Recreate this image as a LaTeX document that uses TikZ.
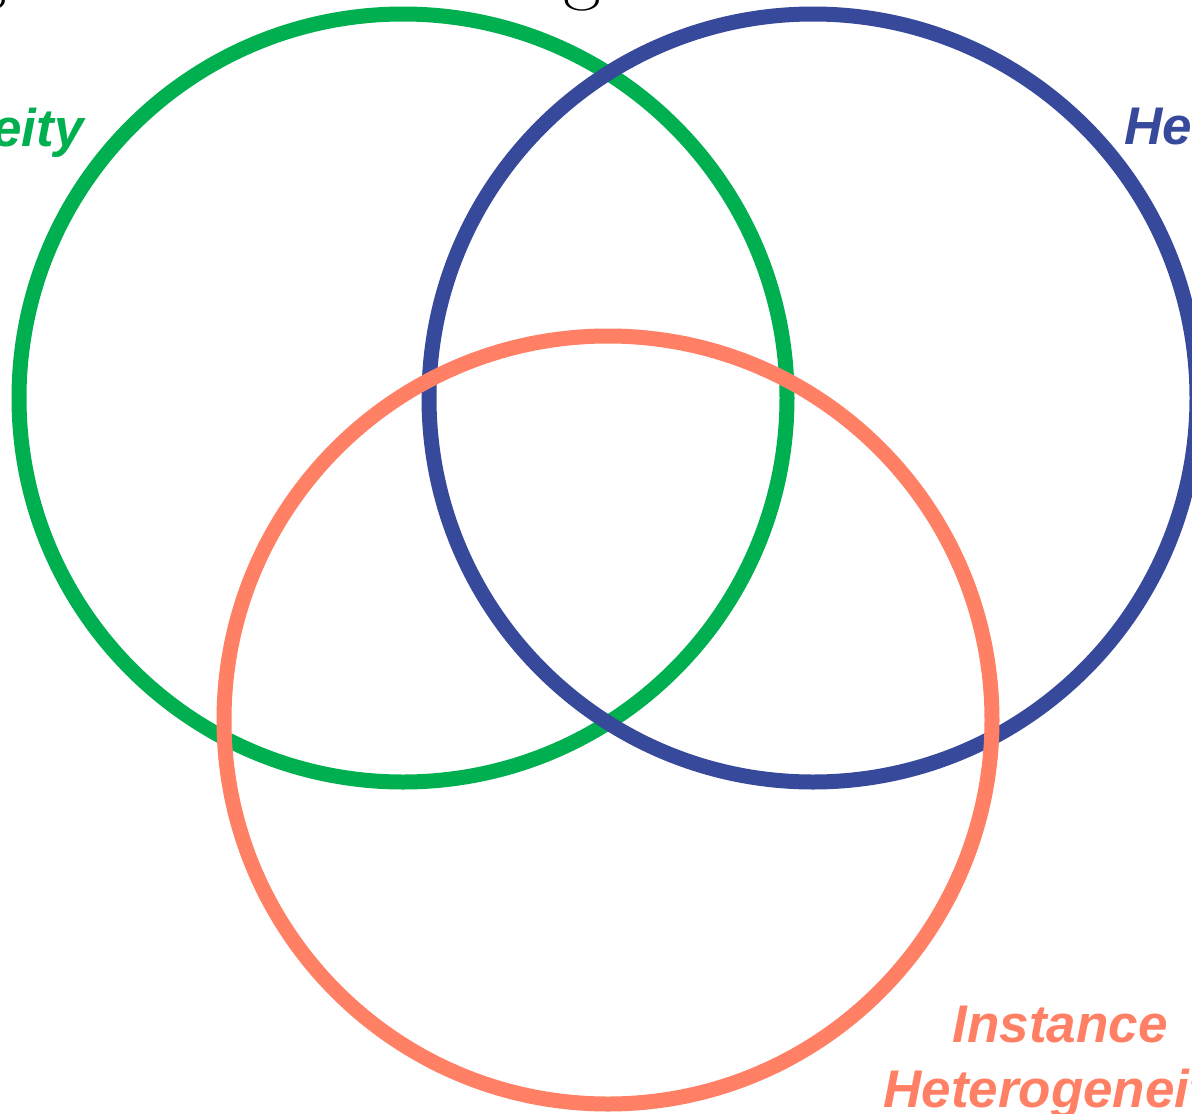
\documentclass[tikz,border=0pt]{standalone}
\usepackage{fontspec}
\setmainfont{Latin Modern Roman}
\newfontfamily\arialfont{Liberation Sans}
\definecolor{vgreen}{RGB}{0,176,80}
\definecolor{vblue}{RGB}{55,73,155}
\definecolor{vorange}{RGB}{255,128,100}
\begin{document}
\begin{tikzpicture}[x=1pt,y=-1pt,
  ring/.style={circle,draw,line width=15pt,inner sep=0pt,minimum size=768pt},
  lbl/.style={font=\arialfont\bfseries\itshape\fontsize{53}{65}\selectfont,align=center,inner sep=0pt},
  ttl/.style={font=\fontsize{82}{90}\selectfont,inner sep=0pt,anchor=base}]
\useasboundingbox (0,0) rectangle (1192,1114);
\clip (0,0) rectangle (1192,1114);
\node[ring,draw=vgreen] (cg) at (403,398) {};
\node[ring,draw=vblue] (cb) at (813,398) {};
\node[ring,draw=vorange] (co) at (608,720) {};
\node[lbl,text=vgreen,anchor=base east] (tg) at (84,146) {Heterogeneity};
\node[lbl,text=vblue,anchor=base west] (tb) at (1124,144) {Heterogeneity};
\node[lbl,text=vorange,anchor=base] (to) at (1060,1107) {Instance\\Heterogeneity};
\node[ttl] (t1) at (-12,-6) {g};
\node[ttl] (t2) at (582,-6) {g};
\end{tikzpicture}
\end{document}
